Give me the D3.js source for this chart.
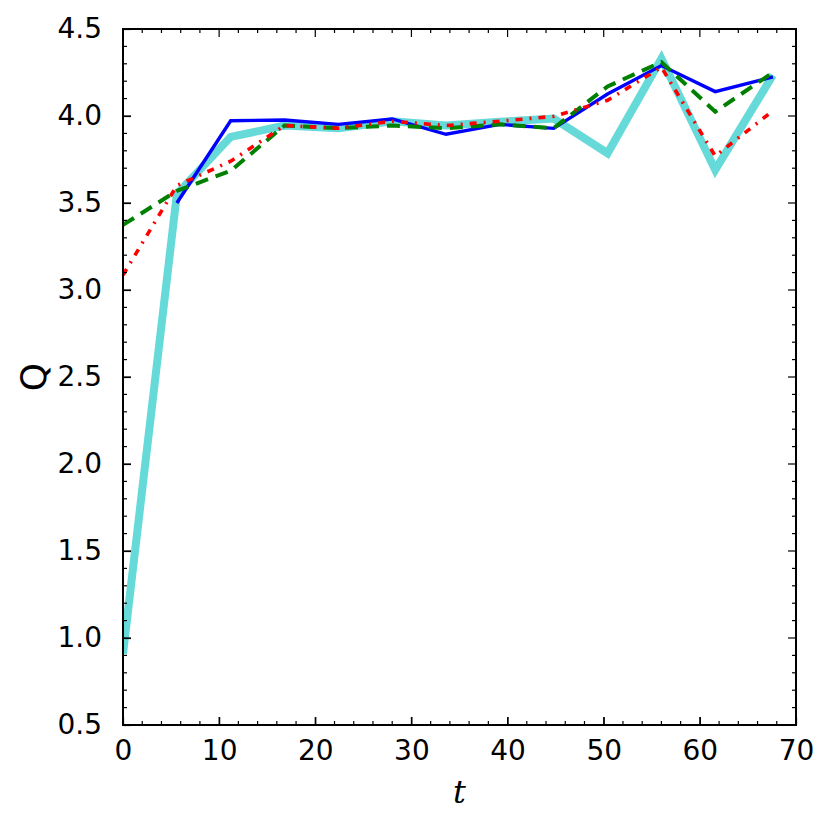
<!DOCTYPE html>
<html>
<head>
<meta charset="utf-8">
<script src="https://cdn.jsdelivr.net/npm/d3@7"></script>
<style>
  body { margin: 0; background: #fff; }
  svg text { font-family: "DejaVu Sans", sans-serif; }
</style>
</head>
<body>
<svg width="831" height="828"></svg>
<script>
// sample times
var t = [0, 5.6, 11.2, 16.8, 22.4, 28, 33.6, 39.2, 44.8, 50.4, 56, 61.6, 67.6];

// series
var cyanQ  = [0.91, 3.55, 3.88, 3.945, 3.93, 3.97, 3.945, 3.967, 3.985, 3.786, 4.33, 3.69, 4.235];
var blueQ  = [null, 3.50, 3.973, 3.977, 3.952, 3.983, 3.895, 3.952, 3.929, 4.126, 4.29, 4.14, 4.225];
var greenQ = [3.374, 3.57, 3.685, 3.945, 3.93, 3.945, 3.93, 3.952, 3.93, 4.17, 4.31, 4.025, 4.25];
var redQ   = [3.086, 3.60, 3.74, 3.945, 3.93, 3.97, 3.945, 3.97, 3.998, 4.09, 4.28, 3.77, 4.03];

var xTicks = [0, 10, 20, 30, 40, 50, 60, 70];
var yTicks = [0.5, 1.0, 1.5, 2.0, 2.5, 3.0, 3.5, 4.0, 4.5];

var svg = d3.select("svg"),
    pLeft = 123, pRight = 796, pTop = 29, pBottom = 725;

var x = d3.scaleLinear().domain([0, 70]).range([pLeft, pRight]);
var y = d3.scaleLinear().domain([0.5, 4.5]).range([pBottom, pTop]);

var series = [
    { v: cyanQ,  color: "#66d9d9", width: 8,   dash: null },
    { v: blueQ,  color: "#0000ff", width: 3.4, dash: null },
    { v: greenQ, color: "#008000", width: 4,   dash: "13,8" },
    { v: redQ,   color: "#ff0000", width: 3.6, dash: "7,7,2,7" }
];

svg.append("clipPath").attr("id", "clip")
    .append("rect")
    .attr("x", pLeft).attr("y", pTop)
    .attr("width", pRight - pLeft).attr("height", pBottom - pTop);

var line = d3.line()
    .defined(function(d) { return d[1] != null; })
    .x(function(d) { return x(d[0]); })
    .y(function(d) { return y(d[1]); });

var plot = svg.append("g").attr("clip-path", "url(#clip)");

series.forEach(function(s) {
    plot.append("path")
        .datum(t.map(function(tt, i) { return [tt, s.v[i]]; }))
        .attr("d", line)
        .attr("fill", "none")
        .attr("stroke", s.color)
        .attr("stroke-width", s.width)
        .attr("stroke-dasharray", s.dash)
        .attr("stroke-linejoin", "miter");
});

// major ticks + labels via d3 axes, drawn inward
function ticks(axis, sel, major, pad) {
    sel.call(axis.tickValues(major).tickSize(-8).tickPadding(pad));
    sel.select(".domain").remove();
    sel.selectAll(".tick line").attr("stroke", "#000").attr("stroke-width", 1.2);
    sel.selectAll(".tick text").attr("fill", "#000")
        .style("font-size", "28px")
        .style("font-family", "DejaVu Sans");
}

var xMinor = d3.range(0, 70.01, 2), yMinor = d3.range(0.5, 4.51, 0.1);

var gx = svg.append("g").attr("transform", "translate(0," + pBottom + ")");
ticks(d3.axisBottom(x).tickFormat(d3.format("d")), gx, xTicks, 15);
var gy = svg.append("g").attr("transform", "translate(" + pLeft + ",0)");
ticks(d3.axisLeft(y).tickFormat(d3.format(".1f")), gy, yTicks, 21);

// minor ticks + top/right mirrored ticks
var tk = svg.append("g").attr("stroke", "#000").attr("stroke-width", 1.2);
xMinor.forEach(function(v, i) {
    var len = (i % 5 === 0) ? 8 : 4;
    tk.append("line").attr("x1", x(v)).attr("x2", x(v)).attr("y1", pBottom).attr("y2", pBottom - len);
    tk.append("line").attr("x1", x(v)).attr("x2", x(v)).attr("y1", pTop).attr("y2", pTop + len);
});
yMinor.forEach(function(v, i) {
    var len = (i % 5 === 0) ? 8 : 4;
    tk.append("line").attr("y1", y(v)).attr("y2", y(v)).attr("x1", pLeft).attr("x2", pLeft + len);
    tk.append("line").attr("y1", y(v)).attr("y2", y(v)).attr("x1", pRight).attr("x2", pRight - len);
});

svg.append("rect")
    .attr("x", pLeft).attr("y", pTop)
    .attr("width", pRight - pLeft).attr("height", pBottom - pTop)
    .attr("fill", "none").attr("stroke", "#000").attr("stroke-width", 2);

svg.append("text")
    .attr("x", (pLeft + pRight) / 2).attr("y", 803)
    .attr("text-anchor", "middle")
    .style("font-size", "32px")
    .style("font-family", "DejaVu Serif")
    .attr("font-style", "italic")
    .text("t");

svg.append("text")
    .attr("transform", "translate(46," + (pTop + pBottom) / 2 + ") rotate(-90)")
    .attr("text-anchor", "middle")
    .style("font-size", "36px")
    .text("Q");
</script>
</body>
</html>
